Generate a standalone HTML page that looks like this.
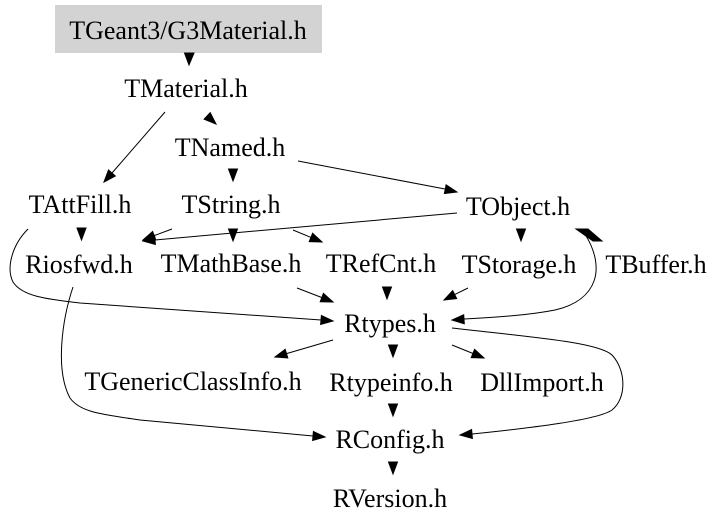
<!DOCTYPE html>
<html><head><meta charset="utf-8"><style>
html,body{margin:0;padding:0;background:#fff;}
svg{display:block;}
svg text{font-family:"Liberation Serif","Times New Roman",Times,serif;font-size:26px;fill:#000;}
</style></head><body>
<svg width="725" height="528" viewBox="0 0 725 528" xmlns="http://www.w3.org/2000/svg">
<rect x="0" y="0" width="725" height="528" fill="#fff"/>
<rect x="55" y="5" width="267" height="48" fill="#d3d3d3"/>
<g stroke="#000" stroke-width="1" fill="none">
<path d="M165,112 L112,173"/>
<path d="M298,161 L445,189"/>
<path d="M172,229 L154,235.7"/>
<path d="M457,213 L155,240"/>
<path d="M293,230 L311,237.4"/>
<path d="M585,234 C606,268 598,300 555,310 C530,315 500,317 464,319"/>
<path d="M28,229 C12,245 6,268 13,282 C22,296 45,299 80,303 L321,320"/>
<path d="M73,287 C62,320 55,370 70,398 C80,412 100,414 140,420 L313,436"/>
<path d="M297,288 L322,297.6"/>
<path d="M468,288 L454.7,294.6"/>
<path d="M333,340 L286.5,353.6"/>
<path d="M452,345 L473,353.5"/>
<path d="M452,328 C530,337 598,342 612,355 C626,370 627,398 612,410 C598,420 530,428 472,434"/>
</g>
<g fill="#000" stroke="#000" stroke-width="1">
<polygon points="189,65 184.5,53 194,53"/>
<polygon points="104,182 115.3,176 108.5,170"/>
<polygon points="216,124 204.1,119.2 210.2,112.6"/>
<polygon points="457,192 444.4,193.6 446.1,184.8"/>
<polygon points="233,181 228.5,169 237.5,169"/>
<polygon points="81.5,240 77,228 86,228"/>
<polygon points="143,240 155.8,239.9 152.6,231.5"/>
<polygon points="143,241 155.4,244.4 154.6,235.4"/>
<polygon points="233,241 228.5,229 237.5,229"/>
<polygon points="322,242 309.2,241.6 312.6,233.2"/>
<polygon points="521,241 516.5,229 525.5,229"/>
<polygon points="576,229 588,229 602,241 593,241"/>
<polygon points="452,320 464.3,323.8 463.7,314.8"/>
<polygon points="333,321 321.4,315.5 320.6,324.5"/>
<polygon points="325,437 313.4,431.5 312.6,440.5"/>
<polygon points="333,302 320.2,301.8 323.4,293.4"/>
<polygon points="387,299 382.5,287 391.5,287"/>
<polygon points="444,300 456.7,298.6 452.7,290.6"/>
<polygon points="275,357 287.8,357.9 285.2,349.3"/>
<polygon points="393,357 388.5,345 397.5,345"/>
<polygon points="484,358 471.2,357.7 474.6,349.3"/>
<polygon points="460,435 472.4,438.5 471.6,429.5"/>
<polygon points="393,416 388.5,404 397.5,404"/>
<polygon points="393,474 388.5,462 397.5,462"/>
</g>
<g text-anchor="middle" font-family="Liberation Serif, Times New Roman, Times, serif" font-size="26">
<text x="188" y="39">TGeant3/G3Material.h</text>
<text x="186" y="97">TMaterial.h</text>
<text x="230" y="156">TNamed.h</text>
<text x="80" y="213">TAttFill.h</text>
<text x="231" y="213">TString.h</text>
<text x="518" y="215">TObject.h</text>
<text x="79" y="273">Riosfwd.h</text>
<text x="231" y="272">TMathBase.h</text>
<text x="381" y="272">TRefCnt.h</text>
<text x="519" y="273">TStorage.h</text>
<text x="656" y="273">TBuffer.h</text>
<text x="390" y="332">Rtypes.h</text>
<text x="193" y="390">TGenericClassInfo.h</text>
<text x="391" y="391">Rtypeinfo.h</text>
<text x="542" y="391">DllImport.h</text>
<text x="390" y="448">RConfig.h</text>
<text x="390" y="507">RVersion.h</text>
</g>
</svg>
</body></html>
